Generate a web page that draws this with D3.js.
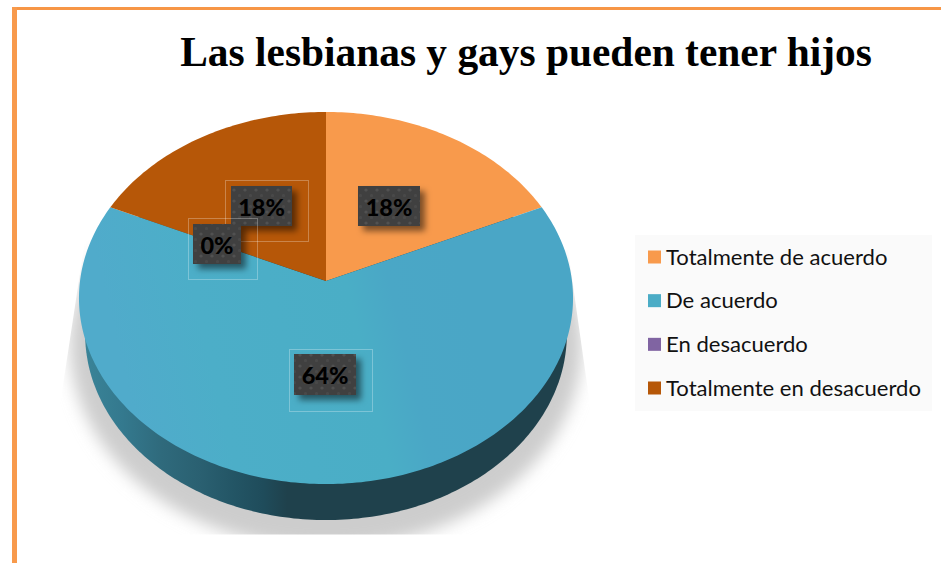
<!DOCTYPE html>
<html><head><meta charset="utf-8">
<script src="https://cdn.jsdelivr.net/npm/d3@7"></script>
<style>html,body{margin:0;padding:0;background:#fff}svg{display:block}</style>
</head><body><svg id="c" width="941" height="563"></svg>
<script>
const titleText = "Las lesbianas y gays pueden tener hijos";
const categories = ["Totalmente de acuerdo","De acuerdo","En desacuerdo","Totalmente en desacuerdo"];
const values = [18.2,63.6,0,18.2];
const labels = ["18%","64%","0%","18%"];
const colors = ["#f89a4c","#4bacc6","#8064a2","#b65708"];

const svg = d3.select("#c");
const defs = svg.append("defs");

// page frame
svg.append("rect").attr("x",12).attr("y",7).attr("width",929).attr("height",3).attr("fill","#f79646");
svg.append("rect").attr("x",12).attr("y",7).attr("width",5).attr("height",556).attr("fill","#f89a4c");

svg.append("text").attr("x",526).attr("y",66).attr("text-anchor","middle")
  .attr("font-family","'Liberation Serif'").attr("font-weight","bold").attr("font-size",41.4).attr("fill","#000").text(titleText);

// perspective-projected pie
const depth = 36, k=-0.0914, a=158.8, apexY=281, cx=326, c=246;
const proj = (t,dy=0,s=1)=>{const u=Math.sin(t),v=-Math.cos(t),d=1+k*v;return [cx+s*c*u/d,(a*v+apexY)/d+dy];};
const pie = d3.pie().sort(null).value(d=>d)(values);
const step = Math.PI/180;
const line = d3.line();
const arcPts=(s,e,dy=0,sc=1)=>{const n=Math.max(1,Math.ceil((e-s)/step));return d3.range(n+1).map(i=>proj(s+(e-s)*i/n,dy,sc));};

// shadow
const blur = defs.append("filter").attr("id","sb").attr("x","-20%").attr("y","-20%").attr("width","140%").attr("height","140%");
blur.append("feGaussianBlur").attr("stdDeviation",8);
defs.append("clipPath").attr("id","sc").append("path").attr("d",line([[85,240],[60,405],[60,534.5],[592,534.5],[590,405],[568,250]])+"Z");
svg.append("g").attr("clip-path","url(#sc)").append("ellipse")
  .attr("cx",326).attr("cy",345).attr("rx",256).attr("ry",203)
  .attr("fill","#cdcdcd").attr("filter","url(#sb)");

// side wall
const wg = defs.append("linearGradient").attr("id","wall").attr("gradientUnits","userSpaceOnUse").attr("x1",84).attr("x2",568).attr("y1",0).attr("y2",0);
[[0,"#3a8498"],[.08,"#34798e"],[.16,"#2f6a7c"],[.24,"#2a6071"],[.31,"#235565"],[.37,"#1f4c5b"],[.42,"#1f414c"],[1,"#1f414c"]]
  .forEach(s=>wg.append("stop").attr("offset",s[0]).attr("stop-color",s[1]));
svg.append("path").attr("fill","url(#wall)").attr("d",line(arcPts(0,2*Math.PI,depth,0.975))+"Z");

// top face
const tg = defs.append("linearGradient").attr("id","top1").attr("gradientUnits","userSpaceOnUse").attr("x1",470).attr("y1",320).attr("x2",130).attr("y2",400);
[[0,"#4aa6c6"],[.2,"#4aa7c6"],[.32,"#4aaec6"],[.75,"#4caec8"],[1,"#50abcb"]].forEach(s=>tg.append("stop").attr("offset",s[0]).attr("stop-color",s[1]));
svg.selectAll("path.slice").data(pie).join("path").attr("class","slice")
  .attr("fill",(d,i)=>i===1?"url(#top1)":colors[i])
  .attr("d",d=>line([[cx,apexY]].concat(arcPts(d.startAngle,d.endAngle)))+"Z");

// data labels
const pat = defs.append("pattern").attr("id","dots").attr("patternUnits","userSpaceOnUse").attr("width",11).attr("height",11);
pat.append("rect").attr("width",11).attr("height",11).attr("fill","#404040");
pat.append("circle").attr("cx",3).attr("cy",3).attr("r",1.6).attr("fill","#515151");
pat.append("circle").attr("cx",8.5).attr("cy",8.5).attr("r",1.6).attr("fill","#4a4a4a");
const sh = defs.append("filter").attr("id","ls").attr("x","-30%").attr("y","-30%").attr("width","170%").attr("height","170%");
sh.append("feDropShadow").attr("dx",5).attr("dy",5).attr("stdDeviation",3).attr("flood-color","#000").attr("flood-opacity",.5);
// label placement is layout, kept apart from the data
const labelBoxes = [[358,186,62,40,0,0,0,0],[294,354,62,41,-5,-5,83,62],[193,224,48,40,-5,-6,69,61],[231,186,61,40,-6,-6,83,61]];
const order=[1,3,0,2];
order.forEach(i=>{const [x,y,w,h,fx,fy,fw,fh]=labelBoxes[i];
  if(fw) svg.append("rect").attr("x",x+fx+.5).attr("y",y+fy+.5).attr("width",fw).attr("height",fh).attr("fill","none").attr("stroke","#fff").attr("stroke-opacity",.28);
  svg.append("rect").attr("x",x).attr("y",y).attr("width",w).attr("height",h).attr("fill","url(#dots)").attr("filter","url(#ls)");
  svg.append("text").attr("x",x+w/2).attr("y",y+30).attr("text-anchor","middle")
    .attr("font-family","Lato").attr("font-weight","900").attr("font-size",23.5).attr("fill","#000").text(labels[i]);
});

// legend
svg.append("rect").attr("x",635).attr("y",235).attr("width",297).attr("height",176).attr("fill","#fafafa");
const ly=d3.scalePoint().domain(categories).range([257,388]);
const lg=svg.selectAll("g.leg").data(categories).join("g").attr("class","leg").attr("transform",d=>`translate(0,${ly(d)})`);
lg.append("rect").attr("x",648).attr("y",-6.5).attr("width",13).attr("height",13).attr("fill",(d,i)=>colors[i]);
lg.append("text").attr("x",666).attr("y",7.5).attr("font-family","Lato").attr("font-size",22.07).attr("fill","#111").text(d=>d);
</script></body></html>
